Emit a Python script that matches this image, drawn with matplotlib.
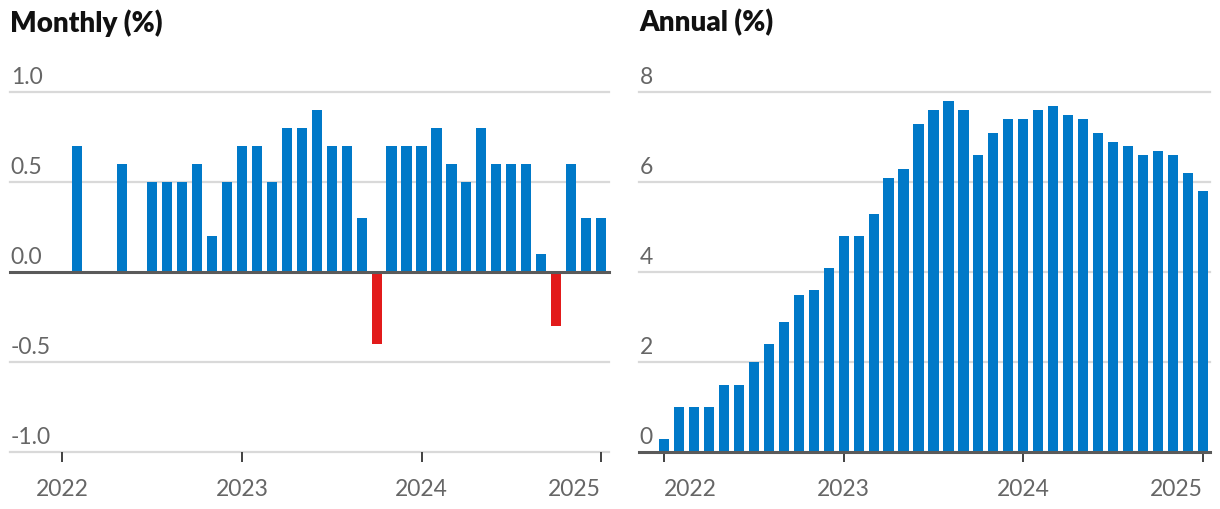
import matplotlib.pyplot as plt
import matplotlib.transforms as mtransforms
import numpy as np

# ===== DONNEES ===== #
# mois de janvier 2022 a janvier 2025
mois = np.arange(37)
annees = ["2022", "2023", "2024", "2025"]
pos_annees = [0, 12, 24, 36]

mensuel = [0.0, 0.7, 0.0, 0.0, 0.6, 0.0, 0.5, 0.5, 0.5, 0.6, 0.2, 0.5,
           0.7, 0.7, 0.5, 0.8, 0.8, 0.9, 0.7, 0.7, 0.3, -0.4, 0.7, 0.7,
           0.7, 0.8, 0.6, 0.5, 0.8, 0.6, 0.6, 0.6, 0.1, -0.3, 0.6, 0.3,
           0.3]
annuel = [0.3, 1.0, 1.0, 1.0, 1.5, 1.5, 2.0, 2.4, 2.9, 3.5, 3.6, 4.1,
          4.8, 4.8, 5.3, 6.1, 6.3, 7.3, 7.6, 7.8, 7.6, 6.6, 7.1, 7.4,
          7.4, 7.6, 7.7, 7.5, 7.4, 7.1, 6.9, 6.8, 6.6, 6.7, 6.6, 6.2,
          5.8]

yticks_m = [-1.0, -0.5, 0.0, 0.5, 1.0]
yticks_a = [0, 2, 4, 6, 8]

BLEU = "#0079c8"
ROUGE = "#e21b1b"
GRILLE = "#d9d9d9"
ZERO = "#5a5a5a"
TEXTE = "#666666"

plt.rcParams['font.family'] = ['Lato', 'DejaVu Sans']

W, H = 1220, 510
fig = plt.figure(figsize=(W / 100, H / 100), dpi=100)


def panneau(x0, x1, xlim, ylim, yticks, labels, titre, aligne_debut):
    """Cree un axe positionne en pixels et le met en forme."""
    ax = fig.add_axes([x0 / W, (H - 453.3) / H, (x1 - x0) / W, 360 / H])
    ax.set_xlim(*xlim)
    ax.set_ylim(*ylim)
    for s in ax.spines.values():
        s.set_visible(False)
    ax.set_yticks([])
    ax.set_xticks(pos_annees)
    ax.set_xticklabels(annees)
    ax.tick_params(axis='x', length=7.2, width=1.3, color="#333333",
                   pad=11, labelsize=16.5, labelcolor=TEXTE)
    # premiere / derniere etiquette alignees pour ne pas deborder
    etiq = ax.get_xticklabels()
    if aligne_debut:
        etiq[0].set_ha('left')
    etiq[-1].set_ha('right')
    # grille et etiquettes au-dessus des lignes
    trans = mtransforms.blended_transform_factory(ax.transAxes, ax.transData)
    for yv, lab in zip(yticks, labels):
        if yv == 0:
            ax.axhline(0, color=ZERO, lw=2.2, zorder=4, clip_on=False)
        else:
            ax.axhline(yv, color=GRILLE, lw=1.6, zorder=0, clip_on=False)
        ax.annotate(lab, xy=(0, yv), xycoords=trans, xytext=(0.5, 7),
                    textcoords='offset points', ha='left', va='baseline',
                    fontsize=16.5, color=TEXTE)
    fig.text(x0 / W, 1 - 23 / H, titre, fontsize=20, fontweight='heavy',
             ha='left', va='center', color="#111111")
    return ax


# ===== MENSUEL ===== #
ax1 = panneau(10, 609, (-3.5, 36.53), (-1.0, 1.0), yticks_m,
              ["-1.0", "-0.5", "0.0", "0.5", "1.0"], "Monthly (%)", False)
couleurs = [ROUGE if v < 0 else BLEU for v in mensuel]
ax1.bar(mois, mensuel, width=0.68, color=couleurs, zorder=3)

# ===== ANNUEL ===== #
ax2 = panneau(639, 1210, (-1.67, 36.47), (0, 8), yticks_a,
              ["0", "2", "4", "6", "8"], "Annual (%)", True)
ax2.bar(mois, annuel, width=0.68, color=BLEU, zorder=3)

fig.savefig("out.png", dpi=100)
